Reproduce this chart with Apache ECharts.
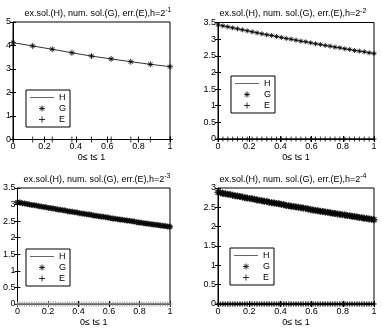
<!DOCTYPE html>
<html lang="en">
<head>
<meta charset="UTF-8">
<script src="https://cdn.jsdelivr.net/npm/echarts@6/dist/echarts.min.js"></script>
<style>
  html, body {margin:0; padding:0; background:#fff;}
  #box {width:382px; height:329px;}
</style>
</head>
<body>
<div id="box"></div>
<script>
// values (t runs evenly from 0 to 1)
const exp1 = [4.12, 3.98, 3.84, 3.69, 3.55, 3.43, 3.31, 3.20, 3.10];
const num1 = [4.12, 3.98, 3.84, 3.69, 3.55, 3.43, 3.31, 3.20, 3.10];
const err1 = [0, 0, 0, 0, 0, 0, 0, 0, 0];

const exp2 = [3.43, 3.40, 3.37, 3.34, 3.31, 3.28, 3.25, 3.22, 3.19, 3.16, 3.13, 3.11, 3.08, 3.05, 3.02, 3.00,
  2.97, 2.94, 2.92, 2.89, 2.86, 2.84, 2.81, 2.79, 2.76, 2.74, 2.71, 2.69, 2.66, 2.64, 2.62, 2.59, 2.57];
const num2 = exp2;
const err2 = [0, 0, 0, 0, 0, 0, 0, 0, 0, 0, 0, 0, 0, 0, 0, 0, 0, 0, 0, 0, 0, 0, 0, 0, 0, 0, 0, 0, 0, 0, 0, 0, 0];

const exp3 = [3.07, 3.06, 3.04, 3.03, 3.02, 3.00, 2.99, 2.98, 2.97, 2.95, 2.94, 2.93, 2.92, 2.90, 2.89, 2.88,
  2.87, 2.85, 2.84, 2.83, 2.82, 2.80, 2.79, 2.78, 2.77, 2.76, 2.74, 2.73, 2.72, 2.71, 2.70, 2.69,
  2.67, 2.66, 2.65, 2.64, 2.63, 2.62, 2.61, 2.59, 2.58, 2.57, 2.56, 2.55, 2.54, 2.53, 2.52, 2.51,
  2.50, 2.49, 2.47, 2.46, 2.45, 2.44, 2.43, 2.42, 2.41, 2.40, 2.39, 2.38, 2.37, 2.36, 2.35, 2.34, 2.33];
const num3 = exp3;
const err3 = [0, 0, 0, 0, 0, 0, 0, 0, 0, 0, 0, 0, 0, 0, 0, 0, 0, 0, 0, 0, 0, 0, 0, 0, 0, 0, 0, 0, 0, 0, 0, 0,
  0, 0, 0, 0, 0, 0, 0, 0, 0, 0, 0, 0, 0, 0, 0, 0, 0, 0, 0, 0, 0, 0, 0, 0, 0, 0, 0, 0, 0, 0, 0, 0, 0];

const exp4 = [2.89, 2.88, 2.86, 2.85, 2.84, 2.83, 2.81, 2.80, 2.79, 2.78, 2.77, 2.75, 2.74, 2.73, 2.72, 2.71,
  2.69, 2.68, 2.67, 2.66, 2.65, 2.63, 2.62, 2.61, 2.60, 2.59, 2.58, 2.57, 2.55, 2.54, 2.53, 2.52,
  2.51, 2.50, 2.49, 2.48, 2.47, 2.46, 2.44, 2.43, 2.42, 2.41, 2.40, 2.39, 2.38, 2.37, 2.36, 2.35,
  2.34, 2.33, 2.32, 2.31, 2.30, 2.29, 2.28, 2.27, 2.26, 2.25, 2.24, 2.23, 2.22, 2.21, 2.20, 2.19, 2.18];
const num4 = exp4;
const err4 = err3;

const stepLabels = ['-1', '-2', '-3', '-4'];
const yMaxes = [5, 3.5, 3.5, 3];
const ySteps = [1, 0.5, 0.5, 0.5];

const panels = [
  {ex: exp1, num: num1, err: err1},
  {ex: exp2, num: num2, err: err2},
  {ex: exp3, num: num3, err: err3},
  {ex: exp4, num: num4, err: err4},
];

// layout
const boxes = [
  {left: 13, top: 22, width: 157, height: 117.5},
  {left: 218, top: 22.5, width: 156, height: 116.5},
  {left: 13, top: 188, width: 157, height: 116},
  {left: 218, top: 188, width: 156, height: 116},
];
const titleX = [98, 293, 97, 293];
const legendPos = [
  {left: 26, top: 90}, {left: 231, top: 76}, {left: 26, top: 249}, {left: 230, top: 248}
];
const starSize = [6, 5, 6, 7];
const starWidth = [1, 1, 1.4, 1.6];
const plusSize = [6, 5, 5, 5];
const errColor = ['#000', '#000', '#888', '#000'];
const errWidth = [1, 1, 1, 1.6];

const FONT = 'Liberation Sans, Arial, sans-serif';
const STAR = 'path://M5,0L5,10M0,5L10,5M1.5,1.5L8.5,8.5M8.5,1.5L1.5,8.5';
const PLUS = 'path://M5,0L5,10M0,5L10,5';
const BAR = 'path://M0,0L24,0L24,1L0,1Z';

const pts = ys => ys.map((y, i) => [i / (ys.length - 1), y]);

let grid = [], xAxis = [], yAxis = [], series = [], title = [], legend = [];

panels.forEach((p, k) => {
  const b = boxes[k];
  grid.push({left: b.left, top: b.top, width: b.width, height: b.height,
    show: true, borderColor: '#000', borderWidth: 1});
  const tick = {show: true, inside: true, length: 3, lineStyle: {color: '#000'}};
  xAxis.push({gridIndex: k, type: 'value', min: 0, max: 1, interval: 0.2, position: 'bottom',
    axisLine: {lineStyle: {color: '#000', width: 1}}, axisTick: tick, splitLine: {show: false},
    axisLabel: {color: '#000', fontSize: 9, fontFamily: FONT, margin: 3},
    name: '0\u2264 t\u2264 1', nameLocation: 'middle', nameGap: 14,
    nameTextStyle: {color: '#000', fontSize: 9, fontFamily: FONT}});
  xAxis.push({gridIndex: k, type: 'value', min: 0, max: 1, interval: 0.2, position: 'top',
    axisLine: {show: false}, axisTick: tick, axisLabel: {show: false}, splitLine: {show: false}});
  yAxis.push({gridIndex: k, type: 'value', min: 0, max: yMaxes[k], interval: ySteps[k], position: 'left',
    axisLine: {lineStyle: {color: '#000', width: 1}}, axisTick: tick, splitLine: {show: false},
    axisLabel: {color: '#000', fontSize: 9, fontFamily: FONT, margin: 2}});
  yAxis.push({gridIndex: k, type: 'value', min: 0, max: yMaxes[k], interval: ySteps[k], position: 'right',
    axisLine: {show: false}, axisTick: tick, axisLabel: {show: false}, splitLine: {show: false}});

  title.push({
    text: 'ex.sol.(H), num. sol.(G), err.(E),h=2{s|' + stepLabels[k] + '}',
    left: titleX[k], top: b.top - 15, textAlign: 'center', padding: 0,
    textStyle: {fontSize: 9, fontWeight: 'normal', color: '#000', fontFamily: FONT,
      rich: {s: {fontSize: 7, verticalAlign: 'top', padding: [0, 0, 6, 0], fontFamily: FONT}}}
  });

  series.push({name: 'H', type: 'line', xAxisIndex: 2 * k, yAxisIndex: 2 * k, data: pts(p.ex),
    showSymbol: false, symbol: 'none', lineStyle: {color: '#000', width: 0.8}, itemStyle: {color: '#000'},
    silent: true, z: 2});
  series.push({name: 'G', type: 'scatter', xAxisIndex: 2 * k, yAxisIndex: 2 * k, data: pts(p.num),
    symbol: STAR, symbolSize: starSize[k], silent: true, z: 3,
    itemStyle: {color: 'transparent', borderColor: '#000', borderWidth: starWidth[k]}});
  series.push({name: 'E', type: 'scatter', xAxisIndex: 2 * k, yAxisIndex: 2 * k, data: pts(p.err),
    symbol: PLUS, symbolSize: plusSize[k], silent: true, z: 3,
    itemStyle: {color: 'transparent', borderColor: errColor[k], borderWidth: errWidth[k]}});

  legend.push({
    left: legendPos[k].left, top: legendPos[k].top, orient: 'vertical',
    data: [
      {name: 'H', icon: BAR, itemStyle: {color: '#666', borderWidth: 0}},
      {name: 'G', icon: STAR, itemStyle: {color: 'transparent', borderColor: '#000', borderWidth: 1}},
      {name: 'E', icon: PLUS, itemStyle: {color: 'transparent', borderColor: '#000', borderWidth: 1}}
    ],
    selectedMode: false,
    backgroundColor: '#fff', borderColor: '#000', borderWidth: 1,
    padding: [2, 4, 2, 4], itemGap: 0, itemWidth: 24, itemHeight: 6,
    textStyle: {fontSize: 9, color: '#000', fontFamily: FONT, lineHeight: 11}
  });
});

const chart = echarts.init(document.getElementById('box'));
chart.setOption({animation: false, title, legend, grid, xAxis, yAxis, series});
</script>
</body>
</html>
